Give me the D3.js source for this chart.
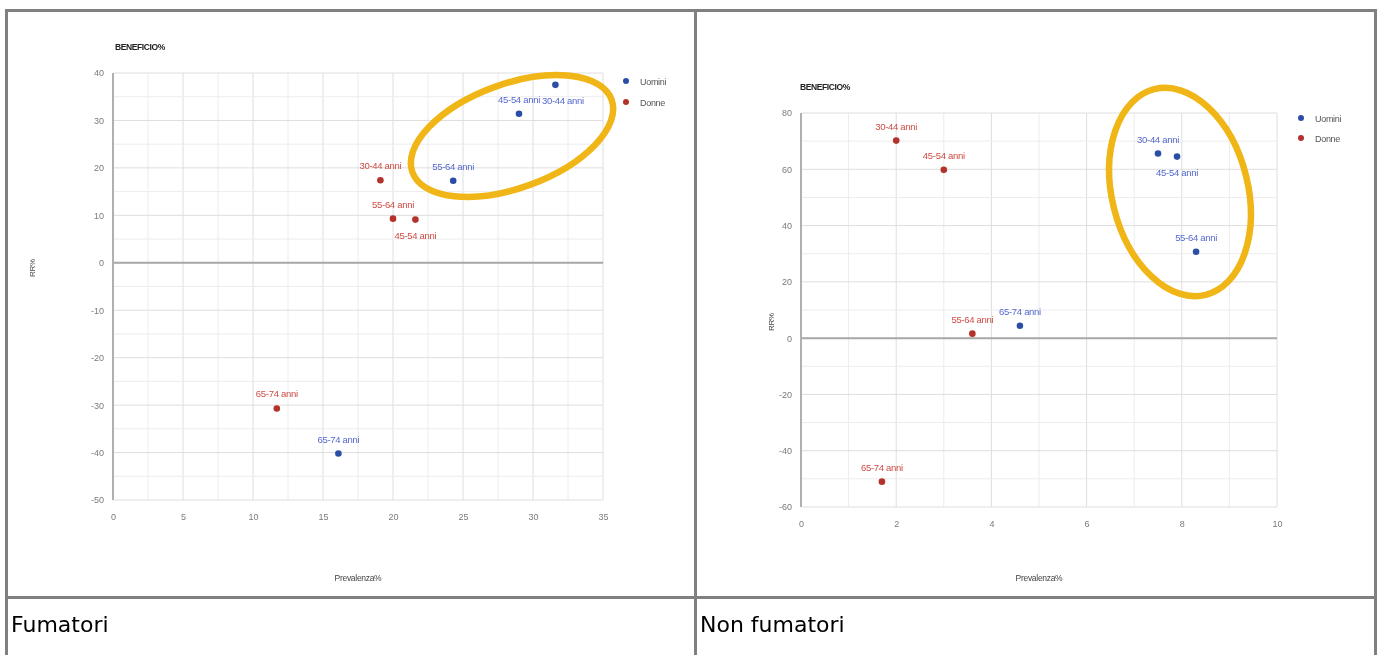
<!DOCTYPE html>
<html>
<head>
<meta charset="utf-8">
<script src="https://cdn.jsdelivr.net/npm/d3@7"></script>
<style>
  html, body { margin: 0; padding: 0; background: #fff; }
  svg { display: block; }
</style>
</head>
<body>
<svg id="page" width="1381" height="655"></svg>
<script>
// Age groups shared by both panels
const ageGroups = ["30-44 anni", "45-54 anni", "55-64 anni", "65-74 anni"];
const seriesNames = ["Uomini", "Donne"];

// Fumatori: prevalence (%) and RR (%) per age group
const smokersMenPrev   = [31.6, 29.0, 24.3, 16.1];
const smokersMenRR     = [37.5, 31.4, 17.3, -40.2];
const smokersWomenPrev = [19.1, 21.6, 20.0, 11.7];
const smokersWomenRR   = [17.4, 9.1, 9.3, -30.7];

// Non fumatori: prevalence (%) and RR (%) per age group
const nonSmokersMenPrev   = [7.5, 7.9, 8.3, 4.6];
const nonSmokersMenRR     = [65.6, 64.5, 30.7, 4.4];
const nonSmokersWomenPrev = [2.0, 3.0, 3.6, 1.7];
const nonSmokersWomenRR   = [70.2, 59.8, 1.6, -51.0];

// Axis ticks
const smokersXTicks = [0, 5, 10, 15, 20, 25, 30, 35];
const smokersYTicks = [40, 30, 20, 10, 0, -10, -20, -30, -40, -50];
const nonSmokersXTicks = [0, 2, 4, 6, 8, 10];
const nonSmokersYTicks = [80, 60, 40, 20, 0, -20, -40, -60];

// Captions of the two table cells
const captions = ["Fumatori", "Non fumatori"];

const colors = {
  menDot: "#2c4ea6", menText: "#5468d0",
  womenDot: "#b3302b", womenText: "#cf4c44",
  highlight: "#f0b512"
};

const FONT = "Liberation Sans, Arial, sans-serif";

const svg = d3.select("#page");
svg.append("rect").attr("width", 1381).attr("height", 655).attr("fill", "#fff");

// soft look of the embedded chart images
const defs = svg.append("defs");
defs.append("filter").attr("id", "soft")
  .attr("x", "-5%").attr("y", "-5%").attr("width", "110%").attr("height", "110%")
  .append("feGaussianBlur").attr("stdDeviation", 0.55);

function overlaps(a, b) {
  return a.x0 < b.x1 + 1 && b.x0 < a.x1 + 1 && a.y0 < b.y1 && b.y0 < a.y1;
}

function drawPanel(cfg) {
  const g = svg.append("g").attr("filter", "url(#soft)");
  const x = d3.scaleLinear().domain(cfg.xDomain).range(cfg.xRange);
  const y = d3.scaleLinear().domain(cfg.yDomain).range(cfg.yRange);
  const [x0, x1] = cfg.xRange;
  const [y0, y1] = cfg.yRange; // y0 bottom, y1 top

  // grid: minor lines at half the tick step
  const xMinor = d3.range(cfg.xDomain[0], cfg.xDomain[1] + 1e-9, cfg.xStep / 2);
  const yMinor = d3.range(cfg.yDomain[0], cfg.yDomain[1] + 1e-9, cfg.yStep / 2);
  g.append("g").selectAll("line").data(xMinor).join("line")
    .attr("x1", d => x(d)).attr("x2", d => x(d))
    .attr("y1", y1).attr("y2", y0)
    .attr("stroke", (d, i) => i % 2 === 0 ? "#dedede" : "#ececec")
    .attr("stroke-width", 1);
  g.append("g").selectAll("line").data(yMinor).join("line")
    .attr("y1", d => y(d)).attr("y2", d => y(d))
    .attr("x1", x0).attr("x2", x1)
    .attr("stroke", (d, i) => i % 2 === 0 ? "#dedede" : "#ececec")
    .attr("stroke-width", 1);

  // baseline at zero and vertical axis
  g.append("line").attr("x1", x0).attr("x2", x1)
    .attr("y1", y(0)).attr("y2", y(0))
    .attr("stroke", "#a8a8a8").attr("stroke-width", 2);
  g.append("line").attr("x1", x0).attr("x2", x0)
    .attr("y1", y1).attr("y2", y0)
    .attr("stroke", "#b0b0b0").attr("stroke-width", 2);

  // tick labels via d3 axes (plain hyphen minus)
  const fmt = d => String(d);
  const yAxis = d3.axisLeft(y).tickValues(cfg.yTicks).tickFormat(fmt).tickSize(0).tickPadding(9);
  const ya = g.append("g").attr("transform", `translate(${x0},0)`).call(yAxis);
  const xAxis = d3.axisBottom(x).tickValues(cfg.xTicks).tickFormat(fmt).tickSize(0).tickPadding(14);
  const xa = g.append("g").attr("transform", `translate(0,${y0})`).call(xAxis);
  [ya, xa].forEach(a => {
    a.select(".domain").remove();
    a.selectAll("text").attr("fill", "#7a7a7a")
      .attr("font-family", FONT).attr("font-size", 9);
  });

  // titles
  g.append("text").attr("x", cfg.titlePos[0]).attr("y", cfg.titlePos[1])
    .attr("font-family", FONT).attr("font-size", 8.5)
    .attr("font-weight", "bold").attr("letter-spacing", -0.4).attr("fill", "#222")
    .text("BENEFICIO%");
  g.append("text")
    .attr("transform", `translate(${cfg.yTitlePos[0]},${cfg.yTitlePos[1]}) rotate(-90)`)
    .attr("text-anchor", "middle")
    .attr("font-family", FONT).attr("font-size", 8)
    .attr("letter-spacing", -0.3).attr("fill", "#444").text("RR%");
  g.append("text").attr("x", (x0 + x1) / 2).attr("y", 581)
    .attr("text-anchor", "middle")
    .attr("font-family", FONT).attr("font-size", 8.5)
    .attr("letter-spacing", -0.3).attr("fill", "#444").text("Prevalenza%");

  // points
  const series = [
    { xs: cfg.menX, ys: cfg.menY, dot: colors.menDot, txt: colors.menText },
    { xs: cfg.womenX, ys: cfg.womenY, dot: colors.womenDot, txt: colors.womenText }
  ];
  const pts = [];
  series.forEach(s => {
    ageGroups.forEach((lab, i) => pts.push({ lab, s, px: x(s.xs[i]), py: y(s.ys[i]) }));
  });
  g.append("g").selectAll("circle").data(pts).join("circle")
    .attr("cx", d => d.px).attr("cy", d => d.py).attr("r", 3.3)
    .attr("fill", d => d.s.dot);

  // labels: above the point (below when there is no room); a label that
  // collides is nudged sideways a little, or else moved to the other side
  const placed = [];
  const lg = g.append("g");
  pts.slice().sort((a, b) => a.px - b.px).forEach(d => {
    const t = lg.append("text")
      .attr("text-anchor", "middle")
      .attr("font-family", FONT).attr("font-size", 9.5)
      .attr("letter-spacing", -0.3)
      .attr("fill", d.s.txt).text(d.lab);
    const w = t.node().getComputedTextLength();
    const above = d.py - 11, below = d.py + 19;
    const candidates = (d.py - 20 < y1) ? [below, above] : [above, below];
    const boxAt = (cx, by) => ({ x0: cx - w / 2, x1: cx + w / 2, y0: by - 8, y1: by + 2 });
    let pos = null;
    for (const c of candidates) {
      let box = boxAt(d.px, c);
      const hits = placed.filter(p => overlaps(p, box));
      if (!hits.length) { pos = [d.px, c]; break; }
      const dx = d3.max(hits, p => p.x1 + 2 - box.x0);
      if (dx <= 12) {
        box = boxAt(d.px + dx, c);
        if (!placed.some(p => overlaps(p, box))) { pos = [d.px + dx, c]; break; }
      }
    }
    if (!pos) pos = [d.px, candidates[0]];
    placed.push(boxAt(pos[0], pos[1]));
    t.attr("x", pos[0]).attr("y", pos[1]);
  });

  // legend
  const leg = g.append("g");
  seriesNames.forEach((name, i) => {
    const ly = cfg.legendPos[1] + i * cfg.legendGap;
    leg.append("circle").attr("cx", cfg.legendPos[0]).attr("cy", ly).attr("r", 3)
      .attr("fill", i === 0 ? colors.menDot : colors.womenDot);
    leg.append("text").attr("x", cfg.legendPos[0] + 14).attr("y", ly + 3.5)
      .attr("font-family", FONT).attr("font-size", 9)
      .attr("letter-spacing", -0.3).attr("fill", "#555").text(name);
  });

  // hand-drawn highlight ring
  g.append("ellipse")
    .attr("transform", `translate(${cfg.ring.cx},${cfg.ring.cy}) rotate(${cfg.ring.rot})`)
    .attr("rx", cfg.ring.rx).attr("ry", cfg.ring.ry)
    .attr("fill", "none").attr("stroke", colors.highlight).attr("stroke-width", 6.5);
}

drawPanel({
  xDomain: [0, 35], xRange: [113, 603], xStep: 5, xTicks: smokersXTicks,
  yDomain: [-50, 40], yRange: [500, 73], yStep: 10, yTicks: smokersYTicks,
  menX: smokersMenPrev, menY: smokersMenRR,
  womenX: smokersWomenPrev, womenY: smokersWomenRR,
  titlePos: [115, 50], yTitlePos: [35, 268],
  legendPos: [626, 81], legendGap: 21,
  ring: { cx: 512, cy: 136, rx: 106, ry: 52, rot: -20 }
});

drawPanel({
  xDomain: [0, 10], xRange: [801, 1277], xStep: 2, xTicks: nonSmokersXTicks,
  yDomain: [-60, 80], yRange: [507, 113], yStep: 20, yTicks: nonSmokersYTicks,
  menX: nonSmokersMenPrev, menY: nonSmokersMenRR,
  womenX: nonSmokersWomenPrev, womenY: nonSmokersWomenRR,
  titlePos: [800, 90], yTitlePos: [774, 322],
  legendPos: [1301, 118], legendGap: 20,
  ring: { cx: 1180, cy: 192, rx: 68, ry: 106, rot: -14 }
});

// table frame
const border = "#808080";
const frame = svg.append("g").attr("fill", border);
frame.append("rect").attr("x", 5).attr("y", 9).attr("width", 1372).attr("height", 3);
frame.append("rect").attr("x", 5).attr("y", 9).attr("width", 3).attr("height", 660);
frame.append("rect").attr("x", 694).attr("y", 9).attr("width", 3).attr("height", 660);
frame.append("rect").attr("x", 1374).attr("y", 9).attr("width", 3).attr("height", 660);
frame.append("rect").attr("x", 5).attr("y", 596).attr("width", 1372).attr("height", 3);

// cell captions
svg.selectAll("text.caption").data(captions).join("text")
  .attr("class", "caption")
  .attr("x", (d, i) => i === 0 ? 11 : 700)
  .attr("y", 632)
  .attr("font-family", "DejaVu Sans, Verdana, sans-serif")
  .attr("font-size", 22)
  .attr("fill", "#000")
  .text(d => d);
</script>
</body>
</html>
